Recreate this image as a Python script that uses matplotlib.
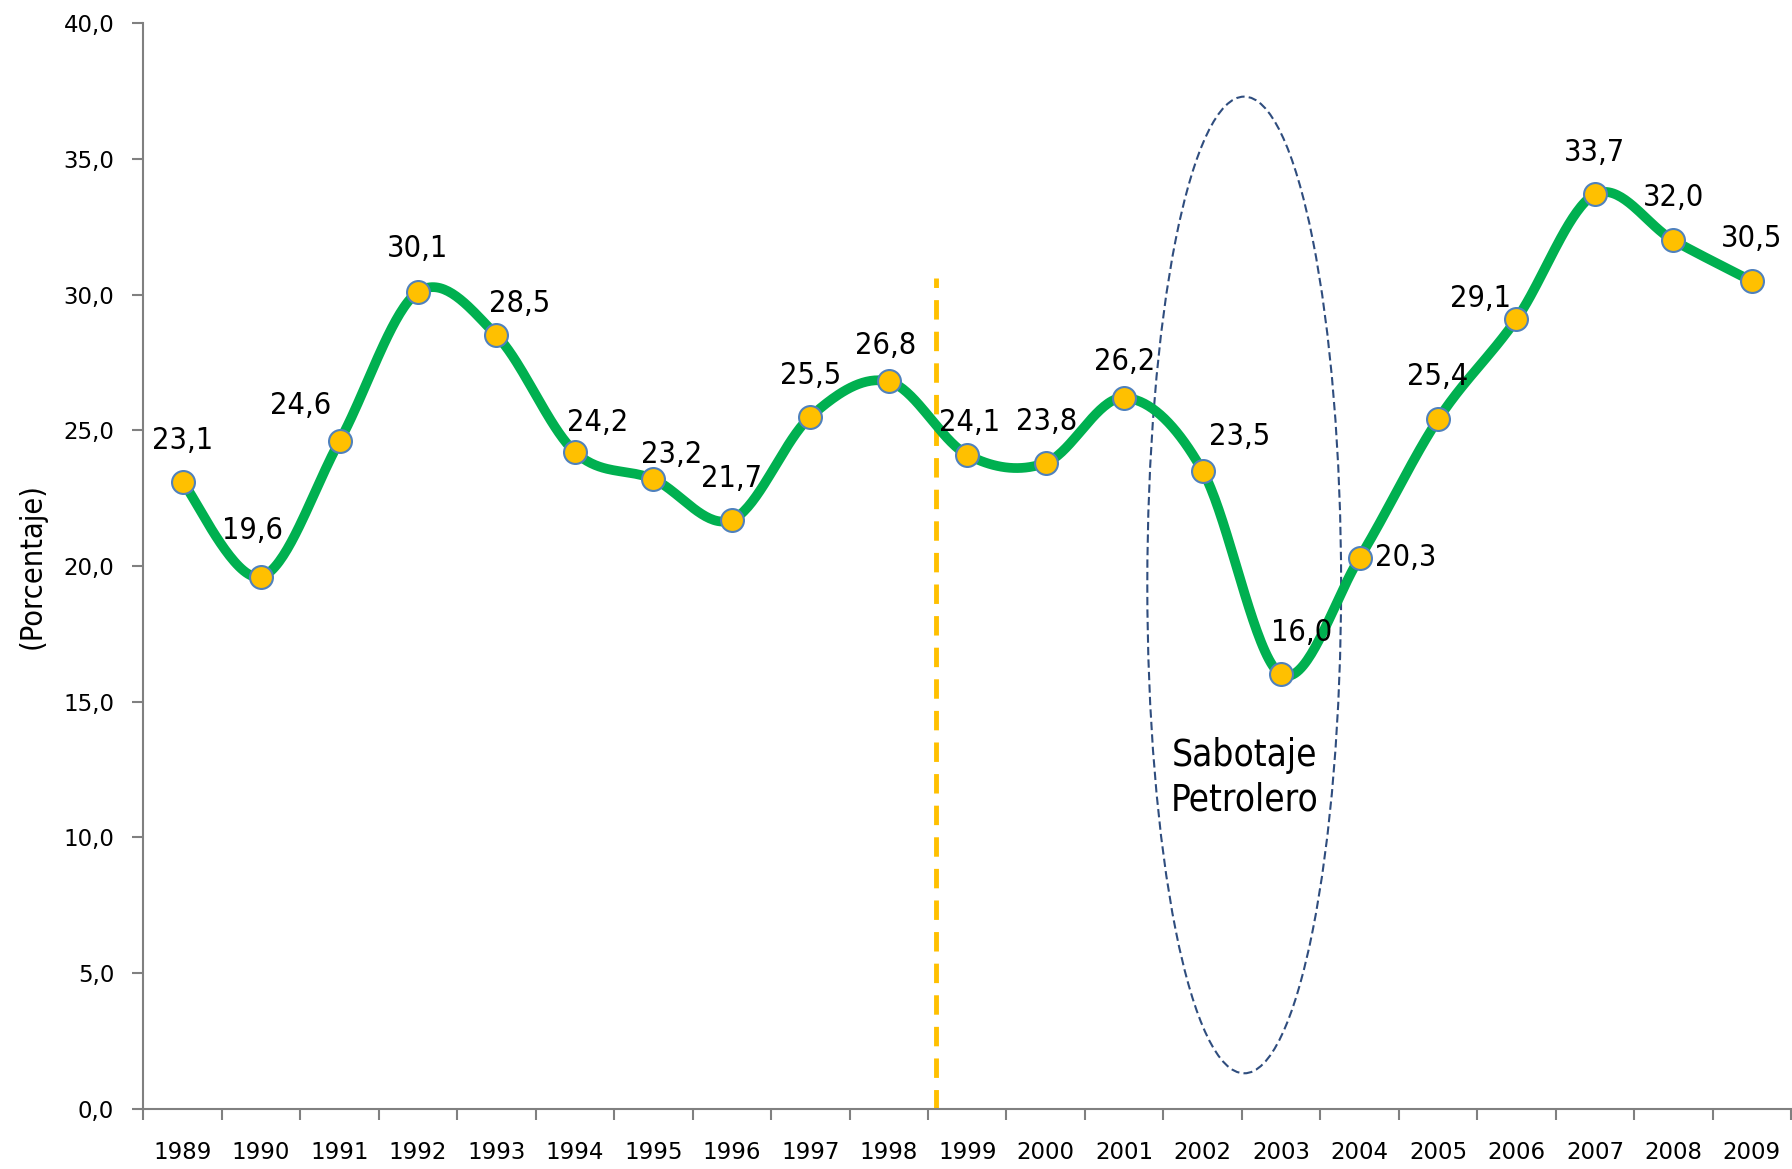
import matplotlib
matplotlib.use("Agg")
import matplotlib.pyplot as plt
import numpy as np
from matplotlib.patches import Ellipse
from matplotlib.ticker import FixedLocator, FuncFormatter
from matplotlib import font_manager

# Data
years = ['1989', '1990', '1991', '1992', '1993', '1994', '1995', '1996', '1997', '1998', '1999',
         '2000', '2001', '2002', '2003', '2004', '2005', '2006', '2007', '2008', '2009']
values = [23.1, 19.6, 24.6, 30.1, 28.5, 24.2, 23.2, 21.7, 25.5, 26.8, 24.1,
          23.8, 26.2, 23.5, 16.0, 20.3, 25.4, 29.1, 33.7, 32.0, 30.5]
y_ticks = [0, 5, 10, 15, 20, 25, 30, 35, 40]

# label offsets (points), by hand to match the original placement
label_dx = [0, -6, -28, 0, 17, 16, 13, 0, 0, -2, 2, 1, 0, 27, 15, 33, 0, -26, 0, 0, 0]
label_dy = [30, 33, 26, 31, 23, 21, 18, 30, 30, 26, 23, 30, 26, 25, 30, 0, 31, 15, 30, 31, 31]

names = {f.name for f in font_manager.fontManager.ttflist}
if 'Liberation Sans Narrow' in names:
    narrow = dict(family='Liberation Sans Narrow')
else:
    narrow = dict(family='DejaVu Sans', stretch='condensed')


def smooth_curve(x, y, n=40):
    # Excel-like smoothed line: Catmull-Rom style cubic Bezier segments
    px = np.concatenate([[x[0]], x, [x[-1]]])
    py = np.concatenate([[y[0]], y, [y[-1]]])
    xs, ys = [], []
    t = np.linspace(0, 1, n)
    for i in range(1, len(px) - 2):
        p0 = np.array([px[i], py[i]])
        p3 = np.array([px[i + 1], py[i + 1]])
        c1 = p0 + (np.array([px[i + 1], py[i + 1]]) - np.array([px[i - 1], py[i - 1]])) / 6
        c2 = p3 - (np.array([px[i + 2], py[i + 2]]) - np.array([px[i], py[i]])) / 6
        b = ((1 - t) ** 3)[:, None] * p0 + (3 * (1 - t) ** 2 * t)[:, None] * c1 \
            + (3 * (1 - t) * t ** 2)[:, None] * c2 + (t ** 3)[:, None] * p3
        xs.append(b[:, 0])
        ys.append(b[:, 1])
    return np.concatenate(xs), np.concatenate(ys)


fig = plt.figure(figsize=(17.92, 11.69), dpi=100)
ax = fig.add_axes([0.080, 0.0517, 0.9195, 0.9283])

x = np.arange(len(years))
sx, sy = smooth_curve(x.astype(float), np.array(values))
ax.plot(sx, sy, color='#00B050', linewidth=7, solid_capstyle='round', zorder=3)
ax.plot(x, values, 'o', markersize=16.5, markerfacecolor='#FFC000', markeredgecolor='#4F81BD',
        markeredgewidth=1.5, zorder=4)

for i, v in enumerate(values):
    ax.annotate(f"{v:.1f}".replace('.', ','), (x[i], v), xytext=(label_dx[i], label_dy[i]),
                textcoords='offset points', ha='center', va='center', fontsize=22,
                zorder=5, **narrow)

# 1998/1999 divider
ax.plot([9.6, 9.6], [0, 30.6], color='#FFC000', linewidth=3.5, dashes=(4, 2.5), zorder=2)

# Sabotaje petrolero highlight
ax.add_patch(Ellipse((13.53, 19.3), 2.47, 36.0, fill=False, edgecolor='#2F4D7E',
                     linewidth=1.5, linestyle=(0, (4, 2)), zorder=2))
ax.text(13.53, 12.2, 'Sabotaje\nPetrolero', ha='center', va='center', fontsize=26.5,
        linespacing=1.25, **narrow)

ax.set_xlim(-0.5, len(years) - 0.5)
ax.set_ylim(0, 40)

ax.set_xticks(x)
ax.set_xticklabels(years, fontsize=16.5)
ax.xaxis.set_minor_locator(FixedLocator(np.arange(-0.5, len(years), 1)))
ax.tick_params(axis='x', which='major', length=0, pad=23)
ax.tick_params(axis='x', which='minor', length=8, width=1.5, color='#808080', direction='out')

ax.set_yticks(y_ticks)
ax.yaxis.set_major_formatter(FuncFormatter(lambda v, p: f"{v:.1f}".replace('.', ',')))
ax.tick_params(axis='y', length=8, width=1.5, color='#808080', labelsize=16.5, pad=13)

ax.set_ylabel('(Porcentaje)', fontsize=22, labelpad=12, **narrow)

for s in ['top', 'right']:
    ax.spines[s].set_visible(False)
for s in ['left', 'bottom']:
    ax.spines[s].set_color('#808080')
    ax.spines[s].set_linewidth(1.5)

fig.savefig('out.png', dpi=100)
